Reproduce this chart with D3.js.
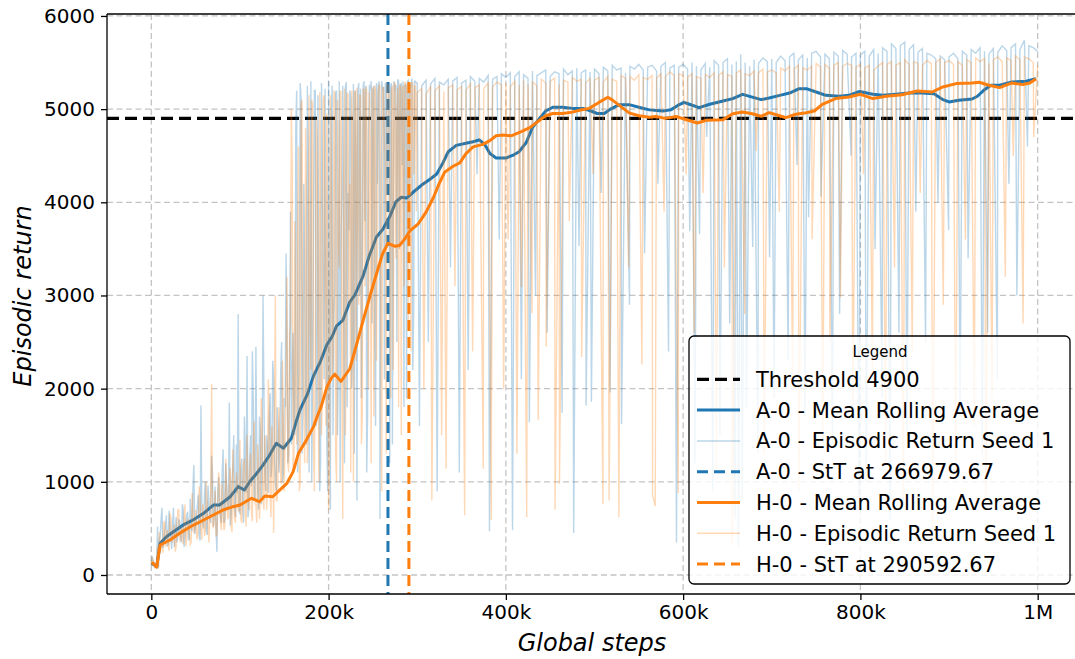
<!DOCTYPE html>
<html><head><meta charset="utf-8">
<script src="https://cdn.jsdelivr.net/npm/d3@7"></script>
<style>
html,body{margin:0;padding:0;background:#fff;}
svg{display:block;font-family:"DejaVu Sans",sans-serif;}
</style></head>
<body>
<svg id="chart" width="1075" height="659"></svg>
<script>
// ---------------- DATA (steps in thousands) ----------------
const xTicks = [0, 200, 400, 600, 800, 1000];
const xTickLabels = ["0", "200k", "400k", "600k", "800k", "1M"];
const yTicks = [0, 1000, 2000, 3000, 4000, 5000, 6000];
const threshold = 4900;
const sttA = 266.97967;
const sttH = 290.59267;

const legendLabels = [
  "Threshold 4900",
  "A-0 - Mean Rolling Average",
  "A-0 - Episodic Return Seed 1",
  "A-0 - StT at 266979.67",
  "H-0 - Mean Rolling Average",
  "H-0 - Episodic Return Seed 1",
  "H-0 - StT at 290592.67"
];

// Mean rolling averages: [step(k), return]
const meanA = [[0,127],[3,110],[6,88],[10,340],[17,411],[25,465],[36,537],[47,590],[59,662],[70,751],[77,751],[89,840],[98,948],[105,912],[111,1001],[119,1092],[126,1180],[133,1280],[141,1413],[149,1360],[158,1467],[164,1664],[168,1779],[176,1938],[183,2137],[191,2296],[198,2470],[204,2560],[209,2673],[216,2733],[224,2932],[230,3011],[239,3210],[246,3429],[254,3628],[261,3708],[269,3847],[276,4006],[282,4054],[288,4046],[295,4105],[305,4185],[314,4245],[322,4304],[329,4423],[335,4543],[344,4611],[355,4634],[363,4650],[370,4670],[376,4622],[382,4523],[389,4475],[400,4475],[409,4510],[415,4543],[423,4642],[430,4801],[438,4901],[445,4980],[453,5020],[464,5020],[475,5008],[487,5008],[496,4980],[503,4953],[511,4953],[518,5000],[528,5048],[539,5048],[550,5020],[562,4992],[577,4980],[586,4992],[594,5040],[601,5072],[607,5052],[618,5016],[630,5052],[645,5088],[656,5113],[667,5159],[677,5131],[688,5102],[697,5120],[709,5148],[720,5173],[731,5220],[739,5220],[750,5184],[761,5148],[776,5138],[787,5148],[799,5190],[814,5159],[825,5148],[840,5159],[855,5173],[870,5173],[883,5166],[893,5102],[900,5077],[911,5095],[926,5109],[932,5138],[940,5209],[947,5256],[957,5256],[971,5291],[987,5299],[998,5327]];

const meanH = [[0,127],[2,125],[6,85],[10,322],[21,376],[32,447],[44,518],[59,590],[70,644],[81,698],[92,733],[100,751],[113,823],[122,787],[128,848],[137,840],[143,894],[153,984],[160,1109],[166,1306],[175,1449],[183,1592],[187,1699],[192,1818],[198,2017],[203,2110],[207,2156],[214,2077],[224,2216],[231,2454],[239,2733],[246,2972],[254,3230],[261,3449],[267,3560],[275,3528],[280,3536],[286,3608],[292,3696],[301,3767],[310,3895],[318,4046],[325,4205],[331,4324],[340,4384],[348,4423],[355,4523],[363,4595],[374,4622],[382,4662],[389,4714],[397,4722],[406,4714],[418,4762],[427,4801],[438,4881],[445,4929],[453,4953],[464,4953],[475,4968],[483,4988],[494,5008],[505,5072],[515,5127],[520,5099],[528,5040],[539,4960],[550,4929],[562,4913],[569,4921],[580,4901],[592,4921],[603,4889],[616,4851],[626,4880],[645,4887],[656,4951],[667,4969],[678,4951],[688,4923],[697,4962],[707,4934],[716,4908],[727,4945],[739,4962],[748,4980],[757,5052],[772,5113],[787,5131],[800,5159],[814,5113],[829,5138],[847,5155],[864,5195],[881,5184],[893,5238],[908,5274],[926,5281],[934,5288],[945,5256],[957,5231],[971,5281],[983,5263],[991,5281],[998,5324]];

// Raw episodic returns, seed 1.
// Early part, even steps: every 2k from 0 to 298k
const evenStart = 0, evenStep = 2;
const rawEvenA = [130,150,90,100,80,420,720,330,520,310,690,380,560,300,620,420,580,350,700,430,640,380,820,470,1180,520,760,420,1820,560,880,480,960,600,1280,520,950,250,1050,620,1120,560,1200,700,1850,640,1150,720,1400,2800,650,1250,560,1300,2350,700,1500,2400,820,2450,900,1700,760,3000,1100,1500,880,1950,1200,2100,980,1800,1100,2200,1000,1900,3450,1200,2100,1400,2600,1500,5200,1700,5280,1300,4200,1800,5250,1100,5300,2400,5200,1600,5150,900,5280,3100,5220,1400,5300,700,5250,2800,5180,1500,5300,3600,5250,1200,5290,4100,5200,2000,5270,5200,800,5280,5220,3200,5300,5250,1700,5260,5300,5200,2600,5280,5250,600,5300,5240,5280,4200,5290,5250,1400,5300,5260,5320,3500,5280,5300,5250,1900,5310,5270,5330,2800,5300];
const rawEvenH = [120,160,80,110,70,380,280,560,300,480,260,620,350,540,300,700,380,520,330,760,400,600,330,880,450,700,380,950,500,760,420,1000,520,600,2050,500,900,420,1100,560,980,480,1250,620,1000,520,1350,600,1100,700,1450,560,1200,640,1500,700,1300,580,1650,750,1400,600,1900,800,1500,700,2100,900,1600,450,3000,800,1800,1000,2300,900,2000,1200,2600,5000,1100,3800,1400,4600,1000,5100,1800,4800,1200,5150,2200,5050,900,4900,2600,5180,1500,5100,3000,4950,700,5150,2100,5200,1300,5100,3300,5180,600,5220,2500,5150,4200,5200,1000,5180,5230,2900,5150,1700,5200,5240,3800,5180,1200,5220,5250,2300,5200,5260,900,5230,4400,5270,5200,1900,5250,5280,3400,5230,5270,1500,5250,5290,5220,2700,5260,5280,4300,5250];
// Early part, odd steps: every 2k from 1k to 299k
const oddStart = 1, oddStep = 2;
const rawOddA = [200,140,110,520,380,600,290,450,640,330,510,280,720,460,350,590,410,760,300,540,680,390,520,950,440,
600,860,370,720,500,1000,430,780,560,1100,650,480,900,720,560,1350,600,950,780,530,1000,1500,620,880,700,
1150,780,1700,880,620,1250,950,1900,820,1300,700,1550,1050,2000,900,1400,1700,1050,2300,1250,900,1600,1350,2500,1100,
1800,2600,1300,3900,2200,1600,4800,1100,2900,5100,1900,3300,1400,4600,2400,1000,3600,5200,1700,2800,1200,4300,2100,3400,900,
2600,4900,1500,3100,5200,2200,1000,4100,2900,5250,1800,3700,5100,2400,1300,4500,5200,3000,1900,5250,3800,1100,4700,5200,2700,
5250,1600,4200,5300,3300,5200,2100,5250,4600,1200,5280,3900,5200,2500,5300,5250,4400,1800,5270,5300,3600,5250,2200,5300,5280];
const rawOddH = [180,100,90,300,460,340,240,580,420,310,660,380,470,250,560,700,360,480,620,310,580,440,350,690,500,
420,560,800,380,650,470,720,350,880,540,600,420,760,980,480,650,530,880,600,1150,460,750,560,1000,680,
600,950,1250,520,820,1100,680,1400,760,560,1200,850,1550,700,1050,920,1700,620,1300,1900,800,1150,1450,980,1600,
1500,3200,1100,2700,4400,1300,2000,3600,900,5050,2300,1200,4100,1700,3000,5100,1400,2500,4700,1000,3800,2000,5150,1600,3300,
1200,4500,2400,5150,1000,3600,5200,2000,4300,1500,5180,2900,1100,4800,5200,2300,3900,5150,1400,5220,3100,5200,2000,4600,5230,
1700,5200,3500,5250,2600,5230,4700,1300,5260,3800,5200,2200,5270,4900,1800,5250,5230,3100,5270,4200,5250,2400,5280,5240,3900];

// Late part: upper level every 5k steps from 300k to 1000k
const lateStart = 300, lateStep = 5;
const rawLateA = [5280,5250,5310,5270,5330,5290,5260,5320,5300,5340,5280,5310,5350,5300,5330,5290,5360,5320,5350,5380,
5340,5390,5350,5400,5370,5330,5410,5360,5390,5420,5350,5400,5380,5430,5370,5410,5440,5390,5420,5400,
5430,5380,5450,5410,5470,5420,5440,5390,5460,5430,5480,5420,5450,5470,5410,5460,5500,5440,5470,5450,
5480,5430,5500,5460,5420,5490,5450,5520,5470,5500,5540,5480,5510,5590,5500,5460,5530,5490,5550,5510,
5540,5500,5570,5520,5560,5600,5530,5580,5550,5600,5620,5560,5590,5540,5610,5570,5630,5590,5560,5600,
5580,5620,5570,5640,5600,5660,5620,5700,5650,5680,5720,5640,5690,5610,5650,5600,5580,5540,5570,5530,
5560,5600,5540,5620,5580,5640,5600,5660,5620,5590,5650,5610,5680,5630,5660,5700,5640,5740,5680,5660,5620];
const rawLateH = [5180,5220,5160,5240,5200,5250,5190,5230,5260,5210,5240,5200,5270,5230,5260,5220,5280,5240,5290,5260,
5280,5240,5300,5260,5310,5270,5290,5250,5320,5280,5300,5330,5270,5310,5290,5340,5300,5320,5280,5330,
5310,5340,5290,5350,5320,5300,5360,5330,5350,5310,5370,5340,5320,5360,5330,5380,5350,5400,5360,5380,
5360,5340,5380,5350,5330,5370,5340,5390,5360,5400,5370,5350,5390,5420,5380,5360,5410,5390,5430,5400,
5420,5390,5440,5410,5460,5430,5470,5440,5420,5460,5490,5450,5480,5440,5470,5500,5460,5490,5470,5450,
5480,5440,5470,5420,5460,5500,5480,5510,5470,5500,5530,5480,5510,5490,5470,5520,5490,5500,5540,5500,
5520,5480,5510,5470,5530,5500,5550,5510,5540,5490,5530,5560,5510,5550,5520,5570,5530,5560,5540,5500,5470];

// Failed episodes (dips) in the late part: [step(k), return]
const dipsA = [[302.5,1600],[312.5,2500],[322.5,900],[337.5,3300],[347.5,1100],[357.5,2200],[367.5,4300],[381.5,470],[392.5,3600],[407.5,480],[417.5,2100],[426.5,1640],[433.5,3000],[446.5,2600],[463.5,1740],[476.5,450],[482.5,3530],[490.5,1820],[496.5,1860],[507.5,4100],[517.5,1960],[530.5,1620],[539.5,2900],[556.5,3450],[571.5,4200],[583.5,2400],[592.5,350],[607.5,3690],[613.5,1200],[618.5,3660],[626.5,4700],[633.5,900],[641.5,1500],[652.5,2700],[658.5,600],[662.5,300],[666.5,800],[671.5,1800],[678.5,3520],[684.5,1300],[697.5,3410],[702.5,1900],[718.5,2300],[728.5,4400],[737.5,1700],[741.5,3840],[755.5,4060],[768.5,1400],[776.5,2800],[789.5,4500],[798.5,700],[806.5,1000],[816.5,3500],[824.5,1900],[833.5,600],[843.5,2600],[852.5,1500],[862.5,3900],[873.5,2500],[887.5,4000],[899.5,3700],[912.5,1700],[921.5,3400],[937.5,1300],[943.5,2600],[954.5,2100],[967.5,4200],[976.5,3000],[988.5,4600]];
const dipsH = [[307.5,2000],[316.5,800],[327.5,1500],[332.5,1140],[342.5,3100],[353.5,640],[362.5,2400],[374.5,1140],[383.5,590],[397.5,2000],[402.5,3600],[412.5,1300],[417.5,3090],[423.5,620],[429.5,2810],[436.5,1660],[445.5,2450],[455.5,700],[460.5,980],[471.5,3800],[485.5,2340],[498.5,4300],[509.5,760],[516.5,800],[527.5,620],[538.5,3300],[553.5,2260],[565.5,860],[568.5,740],[578.5,3900],[594.5,880],[603.5,4300],[612.5,2600],[622.5,4100],[637.5,1100],[646.5,3300],[655.5,350],[669.5,2800],[682.5,4550],[691.5,1300],[708.5,3900],[723.5,2100],[730.5,900],[745.5,3600],[757.5,1400],[765.5,2500],[777.5,2980],[791.5,1800],[803.5,4300],[813.5,2200],[828.5,1200],[838.5,3300],[848.5,800],[858.5,2400],[867.5,4100],[881.5,400],[893.5,2900],[907.5,1100],[918.5,3600],[928.5,1600],[941.5,700],[948.5,1900],[963.5,3200],[972.5,4500],[983.5,2700],[995.5,4700]];

// ---------------- BUILD ----------------
function buildRaw(even, odd, late, dips) {
  const pts = even.map((v, i) => [evenStart + i * evenStep, v])
    .concat(odd.map((v, i) => [oddStart + i * oddStep, v]))
    .concat(late.map((v, i) => [lateStart + i * lateStep, v]))
    .concat(dips);
  return pts.sort((a, b) => a[0] - b[0]);
}
const rawA = buildRaw(rawEvenA, rawOddA, rawLateA, dipsA);
const rawH = buildRaw(rawEvenH, rawOddH, rawLateH, dipsH);

const C_BLUE = "#1f77b4", C_ORANGE = "#ff7f0e";
const svg = d3.select("#chart");
const L = 107, R = 1082, T = 14, B = 594;
const x = d3.scaleLinear().domain([-50, 1050]).range([L, R]);
const y = d3.scaleLinear().domain([-204, 6021]).range([B, T]);

svg.append("defs").append("clipPath").attr("id", "clip")
  .append("rect").attr("x", L).attr("y", T).attr("width", R - L).attr("height", B - T);

// grid
const grid = svg.append("g");
xTicks.forEach(t => grid.append("line").attr("x1", x(t)).attr("x2", x(t)).attr("y1", T).attr("y2", B)
  .attr("stroke", "#c4c4c4").attr("stroke-width", 1.3).attr("stroke-dasharray", "6,3.5"));
yTicks.forEach(t => grid.append("line").attr("x1", L).attr("x2", R).attr("y1", y(t)).attr("y2", y(t))
  .attr("stroke", "#c4c4c4").attr("stroke-width", 1.3).attr("stroke-dasharray", "6,3.5"));

const plot = svg.append("g").attr("clip-path", "url(#clip)");
const line = d3.line().x(d => x(d[0])).y(d => y(d[1]));

// threshold
plot.append("line").attr("x1", L).attr("x2", R).attr("y1", y(threshold)).attr("y2", y(threshold))
  .attr("stroke", "#000").attr("stroke-width", 3.2).attr("stroke-dasharray", "12,6");

// A-0
plot.append("path").datum(meanA).attr("d", line).attr("fill", "none")
  .attr("stroke", C_BLUE).attr("stroke-width", 3).attr("stroke-linejoin", "round");
plot.append("path").datum(rawA).attr("d", line).attr("fill", "none")
  .attr("stroke", C_BLUE).attr("stroke-opacity", 0.3).attr("stroke-width", 1.4);
plot.append("line").attr("x1", x(sttA)).attr("x2", x(sttA)).attr("y1", T).attr("y2", B)
  .attr("stroke", C_BLUE).attr("stroke-width", 3).attr("stroke-dasharray", "11,6");

// H-0
plot.append("path").datum(meanH).attr("d", line).attr("fill", "none")
  .attr("stroke", C_ORANGE).attr("stroke-width", 3).attr("stroke-linejoin", "round");
plot.append("path").datum(rawH).attr("d", line).attr("fill", "none")
  .attr("stroke", C_ORANGE).attr("stroke-opacity", 0.3).attr("stroke-width", 1.4);
plot.append("line").attr("x1", x(sttH)).attr("x2", x(sttH)).attr("y1", T).attr("y2", B)
  .attr("stroke", C_ORANGE).attr("stroke-width", 3).attr("stroke-dasharray", "11,6");

// spines
svg.append("line").attr("x1", L).attr("x2", L).attr("y1", T).attr("y2", B).attr("stroke", "#000").attr("stroke-width", 1.3);
svg.append("line").attr("x1", L).attr("x2", R).attr("y1", B).attr("y2", B).attr("stroke", "#000").attr("stroke-width", 1.3);
svg.append("line").attr("x1", L).attr("x2", R).attr("y1", T).attr("y2", T).attr("stroke", "#000").attr("stroke-width", 1.3);

// axes
const xAxis = d3.axisBottom(x).tickValues(xTicks).tickFormat((d, i) => xTickLabels[i]).tickSize(6).tickPadding(5);
const gx = svg.append("g").attr("transform", `translate(0,${B})`).call(xAxis);
gx.select(".domain").remove();
gx.selectAll("line").attr("stroke", "#000").attr("stroke-width", 1.3);
gx.selectAll("text").attr("font-family", "DejaVu Sans").attr("font-size", 20).attr("fill", "#000");

const yAxis = d3.axisLeft(y).tickValues(yTicks).tickFormat(d3.format("d")).tickSize(6).tickPadding(6);
const gy = svg.append("g").attr("transform", `translate(${L},0)`).call(yAxis);
gy.select(".domain").remove();
gy.selectAll("line").attr("stroke", "#000").attr("stroke-width", 1.3);
gy.selectAll("text").attr("font-family", "DejaVu Sans").attr("font-size", 20).attr("fill", "#000");

// axis labels
svg.append("text").attr("x", 592).attr("y", 651).attr("text-anchor", "middle")
  .attr("font-size", 24).attr("font-style", "italic").text("Global steps");
svg.append("text").attr("transform", "translate(31,296) rotate(-90)").attr("text-anchor", "middle")
  .attr("font-size", 24).attr("font-style", "italic").text("Episodic return");

// legend
const lg = svg.append("g");
lg.append("rect").attr("x", 689).attr("y", 336).attr("width", 381).attr("height", 248).attr("rx", 5)
  .attr("fill", "#fff").attr("fill-opacity", 0.8).attr("stroke", "#000").attr("stroke-width", 1.3);
lg.append("text").attr("x", 880).attr("y", 357).attr("text-anchor", "middle").attr("font-size", 15).text("Legend");
const handles = [
  {c: "#000", w: 3.2, dash: "12,6", o: 1},
  {c: C_BLUE, w: 3, dash: null, o: 1},
  {c: C_BLUE, w: 1.5, dash: null, o: 0.3},
  {c: C_BLUE, w: 3, dash: "11,6", o: 1},
  {c: C_ORANGE, w: 3, dash: null, o: 1},
  {c: C_ORANGE, w: 1.5, dash: null, o: 0.3},
  {c: C_ORANGE, w: 3, dash: "11,6", o: 1}
];
legendLabels.forEach((lab, i) => {
  const by = 386.7 + i * 30.8;
  const h = handles[i];
  const ln = lg.append("line").attr("x1", 697).attr("x2", 740).attr("y1", by - 7.4).attr("y2", by - 7.4)
    .attr("stroke", h.c).attr("stroke-width", h.w).attr("stroke-opacity", h.o);
  if (h.dash) ln.attr("stroke-dasharray", h.dash);
  lg.append("text").attr("x", 756).attr("y", by).attr("font-size", 21).text(lab);
});
</script>
</body></html>
